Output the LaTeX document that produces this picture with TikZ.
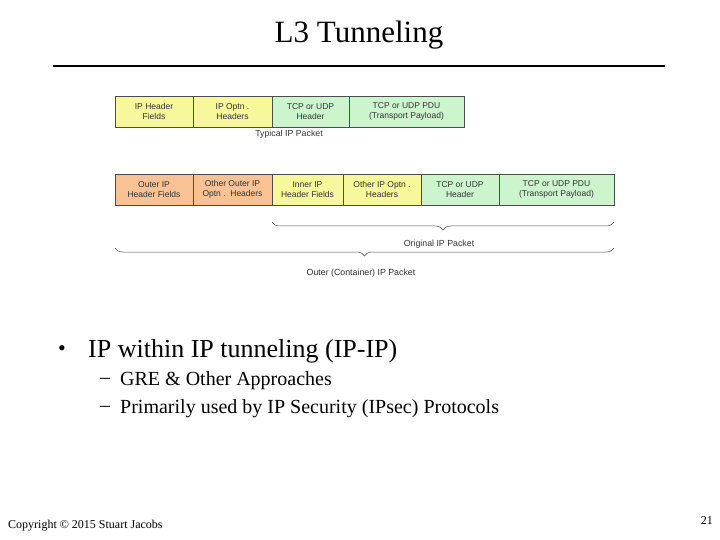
\documentclass[tikz,border=0pt]{standalone}
\usepackage{fontspec}
\setmainfont{Liberation Serif}
\newfontfamily\dsans{Liberation Sans}
\usetikzlibrary{decorations.pathreplacing}
\definecolor{yel}{HTML}{F7F79C}
\definecolor{grn}{HTML}{CDF5CD}
\definecolor{org}{HTML}{F8C295}
\begin{document}
\begin{tikzpicture}[x=1pt,y=-1pt,
  fld/.style={draw=black!70,line width=0.4pt,minimum height=31pt,inner sep=0pt,align=center,font=\dsans\fontsize{8.5}{10}\selectfont,text=black!80},
  lbl/.style={font=\dsans\fontsize{8.8}{10}\selectfont,text=black!80},
  br/.style={decorate,decoration={brace,mirror,amplitude=8pt},draw=black!70,line width=0.5pt}]
\useasboundingbox (0,0) rectangle (720,540);
\node[font=\fontsize{31}{34}\selectfont] (title) at (359,35) {L3 Tunneling};
\coordinate (l1) at (53,66); \coordinate (l2) at (665,66);
\draw[line width=1.5pt] (l1) -- (l2);
% row 1
\node[fld,fill=yel,minimum width=78pt] (a1) at (154,111.5) {IP Header\\Fields};
\node[fld,fill=yel,minimum width=79pt] (a2) at (232.5,111.5) {IP Optn .\\Headers};
\node[fld,fill=grn,minimum width=77pt] (a3) at (310.5,111.5) {TCP or UDP\\Header};
\node[fld,fill=grn,minimum width=115pt] (a4) at (406.5,111.5) {TCP or UDP PDU\\(Transport Payload)};
\node[lbl] (t1) at (289,134) {Typical IP Packet};
% row 2
\node[fld,fill=org,minimum width=78pt] (b1) at (154,189.5) {Outer IP\\Header Fields};
\node[fld,fill=org,minimum width=79pt] (b2) at (232.5,189.5) {Other Outer IP\\Optn .\ \ Headers};
\node[fld,fill=yel,minimum width=71pt] (b3) at (307.5,189.5) {Inner IP\\Header Fields};
\node[fld,fill=yel,minimum width=78pt] (b4) at (382,189.5) {Other IP Optn .\\Headers};
\node[fld,fill=grn,minimum width=78pt] (b5) at (460,189.5) {TCP or UDP\\Header};
\node[fld,fill=grn,minimum width=115pt] (b6) at (556.5,189.5) {TCP or UDP PDU\\(Transport Payload)};
\coordinate (o1) at (272,222); \coordinate (o2) at (614,222);
\draw[br] (o1) -- (o2);
\node[lbl] (t2) at (439,244) {Original IP Packet};
\coordinate (c1) at (115,248); \coordinate (c2) at (614,248);
\draw[br] (c1) -- (c2);
\node[lbl] (t3) at (361,273) {Outer (Container) IP Packet};
% bullets
\node[anchor=west,font=\fontsize{22}{26}\selectfont,inner sep=0pt] (p0) at (58,351) {\textbullet};
\node[anchor=west,font=\fontsize{26}{30}\selectfont,inner sep=0pt] (p1) at (88,351) {IP within IP tunneling (IP-IP)};
\node[anchor=west,font=\fontsize{20}{24}\selectfont,inner sep=0pt] (p2d) at (100,381) {--};
\node[anchor=west,font=\fontsize{20}{24}\selectfont,inner sep=0pt] (p2) at (120,381) {GRE \& Other Approaches};
\node[anchor=west,font=\fontsize{20}{24}\selectfont,inner sep=0pt] (p3d) at (100,409) {--};
\node[anchor=west,font=\fontsize{20}{24}\selectfont,inner sep=0pt] (p3) at (120,409) {Primarily used by IP Security (IPsec) Protocols};
\node[anchor=west,font=\fontsize{12}{14}\selectfont,inner sep=0pt] (cp) at (8,526) {Copyright © 2015 Stuart Jacobs};
\node[anchor=east,font=\fontsize{12}{14}\selectfont,inner sep=0pt] (pg) at (713,521) {21};
\end{tikzpicture}
\end{document}
